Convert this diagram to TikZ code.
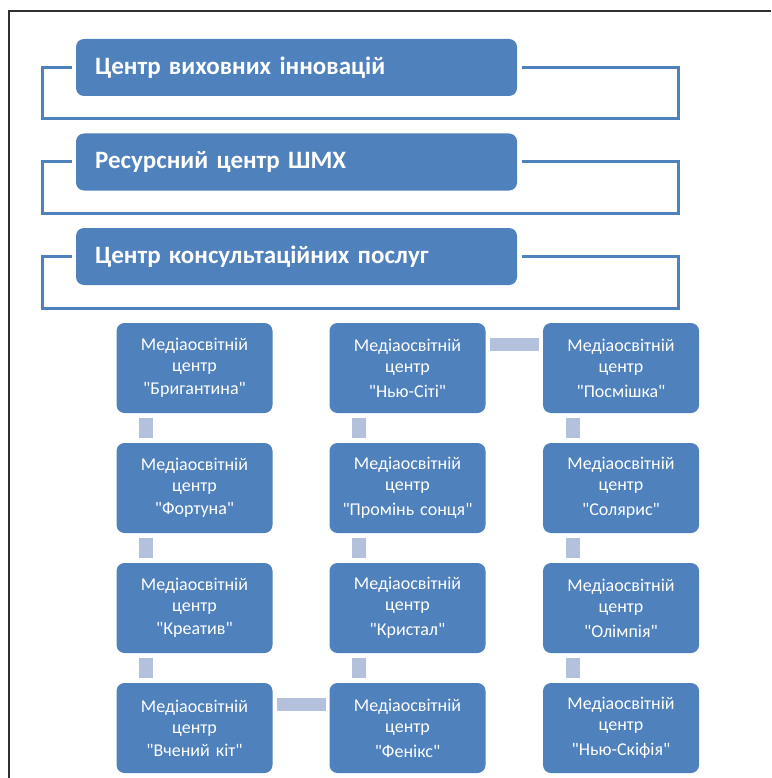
\documentclass[tikz,border=0pt]{standalone}
\usepackage{fontspec}
\setmainfont{Carlito}[Ligatures=TeXOff]
\definecolor{boxblue}{HTML}{4F81BD}
\definecolor{connblue}{HTML}{B3C1DC}
\definecolor{framegray}{HTML}{303030}
\tikzset{
  hdr/.style={fill=boxblue, rounded corners=8pt, minimum height=57pt, text width=403pt, inner xsep=19pt, align=left, text=white, font=\fontsize{25}{29}\selectfont\bfseries},
  mbox/.style={fill=boxblue, rounded corners=8pt, minimum width=156pt, minimum height=90pt, text width=150pt, inner xsep=3pt, align=center, text=white, font=\fontsize{18}{21}\selectfont},
  bracket/.style={draw=boxblue, line width=3pt},
  vconn/.style={draw=connblue, line width=14pt},
  hconn/.style={draw=connblue, line width=13pt},
  framel/.style={draw=framegray, line width=1.6pt}
}
\begin{document}
\begin{tikzpicture}[x=1pt,y=-1pt]
\useasboundingbox (0,0) rectangle (771,778);
\fill[white] (0,0) rectangle (771,778);
\coordinate (fb) at (9,778);
\coordinate (ftl) at (9,11);
\coordinate (fr) at (771,11);
\draw[framel] (fb) -- (ftl) -- (fr);

% header boxes
\node[hdr] (h1) at (296.5,67.5) {Центр виховних інновацій};
\node[hdr] (h2) at (296.5,162) {Ресурсний центр ШМХ};
\node[hdr] (h3) at (296.5,256.5) {Центр консультаційних послуг};

\coordinate (b1l) at (42,119);
\coordinate (b1r) at (678,67.5);
\coordinate (b2l) at (42,213.5);
\coordinate (b2r) at (678,162);
\coordinate (b3l) at (42,308);
\coordinate (b3r) at (678,256.5);
\draw[bracket] ([xshift=-4pt]h1.west) -| (b1l) -| (b1r) -- ([xshift=5pt]h1.east);
\draw[bracket] ([xshift=-4pt]h2.west) -| (b2l) -| (b2r) -- ([xshift=5pt]h2.east);
\draw[bracket] ([xshift=-4pt]h3.west) -| (b3l) -| (b3r) -- ([xshift=5pt]h3.east);

% media centres
\node[mbox] (a1) at (194.5,368) {Медіаосвітній\\центр\\[2pt]"Бригантина"};
\node[mbox] (a2) at (194.5,488) {Медіаосвітній\\центр\\[2pt]"Фортуна"};
\node[mbox] (a3) at (194.5,608) {Медіаосвітній\\центр\\[2pt]"Креатив"};
\node[mbox] (a4) at (194.5,728) {Медіаосвітній\\центр\\[2pt]"Вчений кіт"};
\node[mbox] (b1) at (407.5,368) {Медіаосвітній\\центр\\[4pt]"Нью-Сіті"};
\node[mbox] (b2) at (407.5,488) {Медіаосвітній\\центр\\[4pt]"Промінь сонця"};
\node[mbox] (b3) at (407.5,608) {Медіаосвітній\\центр\\[4pt]"Кристал"};
\node[mbox] (b4) at (407.5,728) {Медіаосвітній\\центр\\[4pt]"Фенікс"};
\node[mbox] (c1) at (621,368) {Медіаосвітній\\центр\\[4pt]"Посмішка"};
\node[mbox] (c2) at (621,488) {Медіаосвітній\\центр\\[4pt]"Солярис"};
\node[mbox] (c3) at (621,608) {Медіаосвітній\\центр\\[4pt]"Олімпія"};
\node[mbox] (c4) at (621,728) {Медіаосвітній\\центр\\[4pt]"Нью-Скіфія"};

% connectors
\foreach \u/\v in {a1/a2,a2/a3,a3/a4,b1/b2,b2/b3,b3/b4,c1/c2,c2/c3,c3/c4}
  \draw[vconn] ([xshift=30pt,yshift=-5pt]\u.south west) -- ([xshift=30pt,yshift=5pt]\v.north west);
\draw[hconn] ([xshift=4pt,yshift=-21.5pt]a4.north east) -- ([xshift=-3pt,yshift=-21.5pt]b4.north west);
\draw[hconn] ([xshift=4pt,yshift=-21.5pt]b1.north east) -- ([xshift=-4pt,yshift=-21.5pt]c1.north west);
\end{tikzpicture}
\end{document}
